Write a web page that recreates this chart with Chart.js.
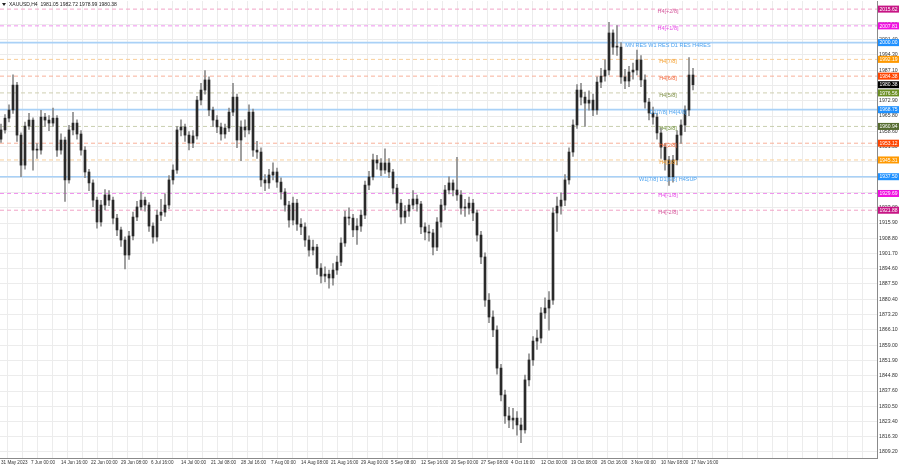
<!DOCTYPE html>
<html>
<head>
<meta charset="utf-8">
<script src="https://cdn.jsdelivr.net/npm/chart.js@4.4.0/dist/chart.umd.min.js"></script>
<style>
  html, body { margin: 0; padding: 0; background: #fff; }
  #wrap { width: 900px; height: 468px; }
</style>
</head>
<body>
<div id="wrap"><canvas id="chart" width="900" height="468"></canvas></div>
<script>
const titleText = 'XAUUSD,H4  1981.05 1982.72 1978.99 1980.38';
const firstOpen = 1955.0;

// H4 candles
const closes = [1959.3,1964.8,1968.6,1980.2,1956.9,1942.9,1961.1,1963.9,1949.9,1949.9,
  1965.3,1963.9,1962.5,1964.8,1949.9,1954.6,1936.0,1959.3,1962.5,1957.4,
  1949.9,1939.7,1934.6,1926.6,1916.4,1924.3,1929.0,1926.6,1918.2,1912.7,
  1908.0,1901.0,1909.9,1918.7,1923.4,1926.6,1924.3,1914.5,1909.4,1919.6,
  1921.0,1924.3,1936.0,1940.6,1959.3,1960.7,1956.9,1953.2,1956.5,1973.2,
  1977.9,1982.6,1968.6,1963.9,1960.7,1957.4,1960.2,1967.6,1974.6,1954.6,
  1960.7,1959.3,1967.6,1949.9,1949.0,1936.0,1934.6,1938.3,1939.7,1935.0,
  1930.4,1924.3,1917.3,1925.2,1915.4,1914.1,1908.0,1903.3,1904.7,1894.9,
  1891.2,1892.1,1890.3,1894.0,1897.7,1906.6,1918.7,1918.2,1912.7,1914.5,
  1919.6,1933.6,1937.4,1945.3,1943.9,1940.6,1943.9,1939.7,1932.2,1925.2,
  1918.7,1921.5,1924.3,1927.1,1924.8,1914.1,1911.7,1911.3,1904.7,1916.4,
  1924.3,1931.3,1934.6,1931.3,1929.0,1922.9,1922.9,1925.2,1920.6,1910.3,
  1900.1,1880.0,1872.1,1866.1,1848.3,1835.8,1826.0,1824.1,1825.0,1821.8,
  1819.5,1842.8,1852.1,1860.9,1862.3,1874.0,1876.3,1880.0,1920.6,1923.8,
  1926.6,1936.0,1949.0,1961.6,1977.9,1974.6,1971.8,1973.2,1968.6,1981.6,
  1984.4,1987.2,2004.5,1997.9,1997.9,1984.0,1982.1,1986.3,1987.2,1991.9,
  1982.6,1972.3,1967.2,1965.3,1957.9,1951.3,1945.3,1937.4,1945.3,1956.9,
  1961.6,1968.6,1984.9,1980.38];
const highs = [1962.0,1966.5,1971.0,1985.0,1981.5,1958.0,1963.0,1967.0,1965.0,1953.0,
  1968.5,1967.0,1966.0,1969.5,1966.0,1957.5,1956.0,1961.5,1967.5,1964.0,
  1959.0,1951.5,1941.0,1936.0,1928.0,1926.5,1931.5,1931.0,1928.0,1920.0,
  1914.0,1909.5,1912.0,1921.0,1926.0,1930.5,1928.0,1925.5,1916.0,1922.0,
  1927.0,1929.5,1938.0,1943.0,1961.0,1964.0,1962.0,1958.5,1959.0,1975.0,
  1981.0,1987.0,1984.0,1970.0,1966.0,1962.5,1962.0,1969.5,1981.0,1976.0,
  1963.5,1964.0,1971.0,1969.0,1954.0,1951.0,1938.5,1941.0,1944.0,1941.5,
  1937.0,1932.0,1926.0,1928.0,1927.0,1918.0,1916.0,1910.0,1908.0,1906.0,
  1897.0,1895.5,1894.0,1897.0,1900.5,1909.0,1921.5,1923.0,1920.0,1918.0,
  1922.0,1935.5,1940.0,1948.0,1947.5,1946.0,1950.5,1946.0,1941.0,1934.0,
  1927.0,1924.0,1927.0,1931.0,1929.0,1926.0,1916.0,1915.0,1913.0,1918.5,
  1927.0,1933.5,1937.5,1936.0,1946.5,1931.0,1927.0,1928.0,1927.0,1922.0,
  1912.0,1902.0,1883.0,1875.0,1868.0,1850.0,1838.0,1830.0,1829.5,1828.0,
  1825.0,1845.0,1855.0,1863.0,1866.0,1876.5,1881.0,1884.0,1923.0,1928.0,
  1930.0,1938.5,1951.0,1964.0,1980.5,1981.0,1977.0,1977.5,1976.0,1984.0,
  1988.0,1992.0,2009.5,2006.0,2008.0,2000.0,1987.5,1989.0,1990.5,1996.5,
  1994.0,1985.0,1974.0,1970.0,1967.0,1960.0,1953.0,1947.0,1947.5,1959.0,
  1964.0,1970.5,1993.0,1988.0];
const lows = [1953.5,1957.8,1963.0,1967.0,1954.0,1937.5,1941.0,1959.5,1940.5,1946.0,
  1948.0,1961.0,1959.0,1961.0,1947.0,1948.0,1926.0,1934.5,1957.0,1955.0,
  1947.5,1937.0,1931.0,1923.5,1913.5,1914.5,1922.0,1924.0,1915.5,1910.0,
  1905.0,1894.5,1899.0,1908.0,1917.0,1922.0,1921.5,1912.0,1906.5,1907.5,
  1917.0,1919.0,1922.5,1934.0,1939.0,1956.5,1954.0,1950.0,1951.0,1955.0,
  1971.0,1976.0,1966.0,1961.0,1958.0,1954.5,1955.5,1958.5,1966.0,1951.0,
  1945.0,1956.0,1957.5,1947.0,1946.0,1933.0,1931.0,1932.0,1936.0,1932.5,
  1927.0,1921.5,1914.0,1915.0,1912.5,1910.5,1905.0,1900.5,1901.0,1892.0,
  1888.0,1888.5,1885.5,1887.0,1892.0,1896.0,1905.0,1915.0,1909.5,1906.0,
  1912.0,1918.0,1931.5,1936.0,1941.0,1938.0,1939.0,1937.0,1929.5,1922.0,
  1915.5,1916.0,1919.0,1922.5,1921.5,1911.0,1908.0,1907.5,1901.0,1903.0,
  1914.0,1922.0,1929.5,1928.5,1926.5,1920.0,1919.0,1920.0,1917.0,1907.5,
  1897.0,1877.0,1869.5,1863.0,1845.5,1833.0,1822.5,1820.5,1820.0,1817.0,
  1813.5,1818.0,1840.0,1849.5,1857.0,1860.0,1871.5,1866.0,1878.0,1912.0,
  1920.0,1924.0,1934.0,1947.0,1960.0,1971.0,1961.0,1968.5,1966.0,1966.5,
  1979.0,1982.0,1985.0,1994.5,1994.0,1981.0,1978.5,1979.5,1983.0,1985.0,
  1979.5,1969.5,1964.0,1962.0,1955.0,1946.0,1940.5,1933.5,1935.0,1943.0,
  1953.0,1958.5,1966.0,1978.0];

const dateLabels = ['31 May 2023','7 Jun 00:00','14 Jun 16:00','22 Jun 00:00','29 Jun 08:00',
  '6 Jul 16:00','14 Jul 00:00','21 Jul 08:00','28 Jul 16:00','7 Aug 00:00','14 Aug 08:00',
  '21 Aug 16:00','29 Aug 00:00','5 Sep 08:00','12 Sep 16:00','20 Sep 00:00','27 Sep 08:00',
  '4 Oct 16:00','12 Oct 00:00','19 Oct 08:00','26 Oct 16:00','3 Nov 00:00','10 Nov 08:00',
  '17 Nov 16:00'];

const priceTicks = [1809.20,1816.30,1823.40,1830.50,1837.60,1844.80,1851.90,1859.00,1866.10,
  1873.20,1880.40,1887.50,1894.60,1901.70,1908.80,1915.90,1923.00,1930.10,1937.30,1944.40,
  1951.50,1958.60,1965.80,1972.90,1980.00,1987.10,1994.30,2001.40,2008.50];

const levelValues = [2015.62,2007.81,2000.00,1992.19,1984.38,1976.56,1968.75,1960.94,
  1953.12,1945.31,1937.50,1929.69,1921.88];
const levelNames = ['H4[+2/8]','H4[+1/8]','MN RES W1 RES D1 RES H4RES','H4[7/8]','H4[6/8]',
  'H4[5/8]','D1[7/8] H4[4/8]','H4[3/8]','H4[2/8]','H4[1/8]','W1[7/8] D1[6/8] H4SUP',
  'H4[-1/8]','H4[-2/8]'];
const lastPrice = 1980.38;

// styles
const lineColors = ['#f2a3c6','#f092ee','#a9d1f7','#f9cf9a','#f8b09a','#cfcfb0','#a9d1f7',
  '#c9cfb0','#f8b09a','#f9cf9a','#a9d1f7','#f092ee','#f2a3c6'];
const textColors = ['#d4559a','#e64ce6','#4da3f0','#f5a030','#f2663a','#7d8f45','#4da3f0',
  '#6f8f3a','#f2663a','#f5a030','#4da3f0','#e64ce6','#d4559a'];
const boxColors = ['#c71585','#f010e0','#1e90ff','#ff9900','#ff4500','#6b8e23','#1e90ff',
  '#556b2f','#ff4500','#ff9900','#1e90ff','#f010e0','#c71585'];
const solidLevels = [2, 6, 10];

const X_MIN = -0.25, X_MAX = 219;
const BAR_STEP = 3.75;      // one grid column, in candle units
const LEVEL_TEXT_AT = 166.75;
const FONT = '"Liberation Sans", Arial, sans-serif';

const opens = closes.map((c, i) => i ? closes[i - 1] : firstOpen);
const wickData = closes.map((c, i) => ({ x: i, y: [lows[i], highs[i]] }));
const bodyData = closes.map((c, i) => ({ x: i, y: [Math.min(opens[i], c), Math.max(opens[i], c)] }));

const levelSets = levelValues.map((v, i) => ({
  type: 'line',
  data: [{ x: X_MIN, y: v }, { x: X_MAX, y: v }],
  borderColor: lineColors[i],
  borderWidth: solidLevels.includes(i) ? 1.6 : 1,
  borderDash: solidLevels.includes(i) ? [] : [4, 3],
  pointRadius: 0,
  order: 5
}));

const overlay = {
  id: 'overlay',
  afterDraw(chart) {
    const c = chart.ctx;
    const xs = chart.scales.x, ys = chart.scales.y;
    c.save();
    // title
    c.fillStyle = '#222';
    c.beginPath();
    c.moveTo(2, 3); c.lineTo(6, 3); c.lineTo(4, 6); c.closePath(); c.fill();
    c.font = '5px ' + FONT;
    c.textBaseline = 'middle';
    c.textAlign = 'left';
    c.fillText(titleText, 9, 4.5);
    // level names
    c.font = '5.5px ' + FONT;
    c.textAlign = 'center';
    levelValues.forEach((v, i) => {
      c.fillStyle = textColors[i];
      c.fillText(levelNames[i], xs.getPixelForValue(LEVEL_TEXT_AT), ys.getPixelForValue(v) + 2.5);
    });
    // price boxes on the axis
    const bx = chart.chartArea.right + 1;
    const boxes = levelValues.map((v, i) => [v, boxColors[i]]).concat([[lastPrice, '#000']]);
    c.font = '5px ' + FONT;
    c.textAlign = 'center';
    boxes.forEach(([v, col]) => {
      const y = ys.getPixelForValue(v);
      c.fillStyle = col;
      c.fillRect(bx, y - 3.5, 21, 7);
      c.fillStyle = '#fff';
      c.fillText(v.toFixed(2), bx + 10.5, y + 0.3);
    });
    c.restore();
  }
};

new Chart(document.getElementById('chart'), {
  type: 'bar',
  data: {
    datasets: [
      { data: bodyData, backgroundColor: '#2a2a2a', barThickness: 2, minBarLength: 1, grouped: false, order: 0 },
      { data: wickData, backgroundColor: '#8c8c8c', barThickness: 1, grouped: false, order: 1 },
      ...levelSets
    ]
  },
  options: {
    responsive: false,
    animation: false,
    events: [],
    layout: { padding: { top: 1, left: 0, right: 0, bottom: 0 } },
    plugins: { legend: { display: false }, tooltip: { enabled: false } },
    scales: {
      x: {
        type: 'linear',
        min: X_MIN,
        max: X_MAX,
        offset: false,
        afterBuildTicks: s => {
          const t = [];
          for (let v = X_MIN; v <= X_MAX; v += BAR_STEP) t.push({ value: v });
          s.ticks = t;
        },
        afterFit: s => { s.height = 10; s.paddingLeft = 0; s.paddingRight = 0; },
        grid: { color: '#ececec', drawTicks: false },
        border: { color: '#8a8a8a' },
        ticks: {
          autoSkip: false, maxRotation: 0, minRotation: 0,
          align: 'start', labelOffset: 1, padding: 2,
          color: '#333', font: { family: FONT, size: 4.6 },
          callback: (v, i) => (i % 2 === 0 && dateLabels[i / 2]) ? dateLabels[i / 2] : ''
        }
      },
      y: {
        position: 'right',
        min: 1806.4,
        max: 2019.4,
        afterBuildTicks: s => { s.ticks = priceTicks.map(v => ({ value: v })); },
        afterFit: s => { s.width = 23; s.paddingTop = 0; s.paddingBottom = 0; },
        grid: { color: '#ececec', drawTicks: false },
        border: { color: '#8a8a8a' },
        ticks: {
          padding: 2, color: '#333', font: { family: FONT, size: 5.2 },
          callback: v => Number(v).toFixed(2)
        }
      }
    }
  },
  plugins: [overlay]
});
</script>
</body>
</html>
